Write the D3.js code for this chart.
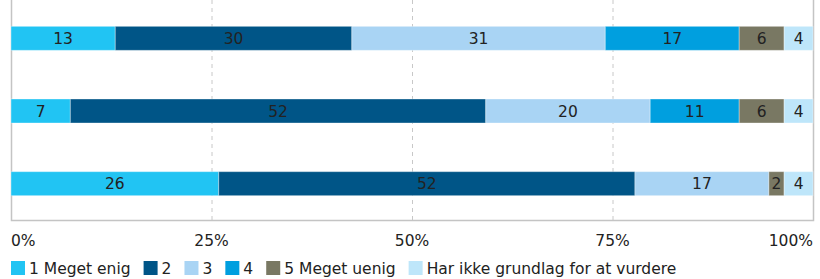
<!DOCTYPE html>
<html>
<head>
<meta charset="utf-8">
<script src="https://cdn.jsdelivr.net/npm/d3@7"></script>
<style>
  body { margin: 0; background: #fff; }
  text { font-family: "DejaVu Sans", Verdana, sans-serif; fill: #222; }
</style>
</head>
<body>
<div id="chart"></div>
<script>
// categories (legend) and colours
var categories = ["1 Meget enig", "2", "3", "4", "5 Meget uenig", "Har ikke grundlag for at vurdere"];
var colors = ["#21c4f3", "#005587", "#a9d4f4", "#009fdf", "#797863", "#bee6fa"];

// rows, top to bottom (percent shares)
var rows = ["r1", "r2", "r3"];
var values = [
    [13.0, 29.5, 31.6, 16.7, 5.6, 3.6],
    [7.4, 51.8, 20.5, 11.1, 5.6, 3.6],
    [25.9, 51.9, 16.7, 0, 1.9, 3.6]
];
var labels = [
    ["13", "30", "31", "17", "6", "4"],
    ["7", "52", "20", "11", "6", "4"],
    ["26", "52", "17", "", "2", "4"]
];
var ticks = [0, 25, 50, 75, 100];

var width = 820, height = 279;
var margin = {left: 11, right: 7, top: 2, bottom: 59};

var svg = d3.select("#chart").append("svg")
    .attr("width", width)
    .attr("height", height);

var x = d3.scaleLinear().domain([0, 100]).range([margin.left, width - margin.right]);
var y = d3.scaleBand().domain(rows).range([margin.top, height - margin.bottom]);
var barH = 24;

// gridlines
svg.selectAll(".grid")
    .data(ticks.slice(1, -1))
  .enter().append("line")
    .attr("x1", function(d) { return x(d) + 0.5; })
    .attr("x2", function(d) { return x(d) + 0.5; })
    .attr("y1", 0)
    .attr("y2", y.range()[1])
    .style("stroke", "#c8c8c8")
    .style("stroke-dasharray", "4,4");

// frame: left, bottom, right
var fx0 = x(0) + 0.5, fx1 = x(100) + 0.5, fy = y.range()[1] + 0.5;
svg.append("path")
    .attr("d", "M" + fx0 + ",0V" + fy + "H" + fx1 + "V0")
    .style("fill", "none")
    .style("stroke", "#c4c4c4")
    .style("stroke-width", 1.5);

// stacked bars
var row = svg.selectAll(".row")
    .data(rows)
  .enter().append("g")
    .attr("class", "row");

row.each(function(r, i) {
    var g = d3.select(this);
    var cum = 0;
    var segs = values[i].map(function(v, j) {
        var s = {x0: cum, x1: cum + v, label: labels[i][j], color: colors[j]};
        cum += v;
        return s;
    });
    var yc = y(r) + y.bandwidth() / 2;

    g.selectAll("rect")
        .data(segs.filter(function(s) { return s.x1 > s.x0; }))
      .enter().append("rect")
        .attr("x", function(s) { return x(s.x0); })
        .attr("width", function(s) { return x(s.x1) - x(s.x0); })
        .attr("y", yc - barH / 2)
        .attr("height", barH)
        .style("fill", function(s) { return s.color; })
        .style("stroke", "rgba(255,255,255,0.35)")
        .style("stroke-width", 1);

    g.selectAll("text")
        .data(segs.filter(function(s) { return s.label; }))
      .enter().append("text")
        .attr("x", function(s) { return (x(s.x0) + x(s.x1)) / 2; })
        .attr("y", yc)
        .attr("dy", "0.36em")
        .attr("text-anchor", "middle")
        .style("font-size", "15.5px")
        .text(function(s) { return s.label; });
});

// x tick labels
svg.selectAll(".tick")
    .data(ticks)
  .enter().append("text")
    .attr("x", function(d) { return x(d); })
    .attr("y", 246)
    .attr("text-anchor", function(d, i) { return i == 0 ? "start" : (i == ticks.length - 1 ? "end" : "middle"); })
    .style("font-size", "15.5px")
    .text(function(d) { return d + "%"; });

// legend
var legend = svg.append("g").attr("transform", "translate(11, 261)");
var lx = 0;
categories.forEach(function(c, i) {
    var item = legend.append("g").attr("transform", "translate(" + lx + ",0)");
    item.append("rect")
        .attr("width", 14)
        .attr("height", 14)
        .style("fill", colors[i]);
    var t = item.append("text")
        .attr("x", 18)
        .attr("y", 12.5)
        .style("font-size", "15.5px")
        .text(c);
    lx += 18 + t.node().getComputedTextLength() + 13;
});
</script>
</body>
</html>
